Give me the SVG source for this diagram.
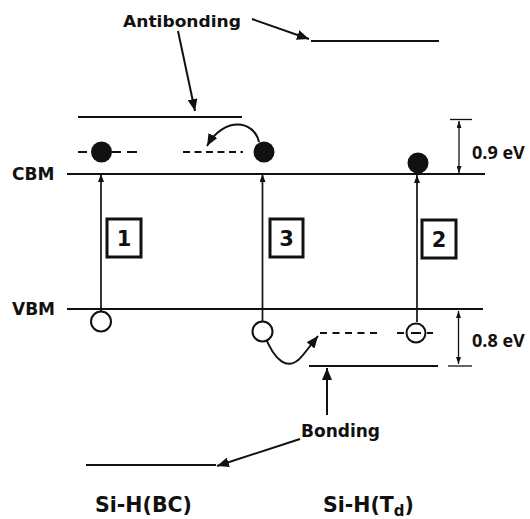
<svg xmlns="http://www.w3.org/2000/svg" width="530" height="519" viewBox="0 0 530 519">
<style>
.lv{stroke:#111;stroke-width:2;fill:none}
.ds{stroke:#111;stroke-width:2;fill:none}
.ar{stroke:#111;stroke-width:2;fill:none}
.thin{stroke:#111;stroke-width:1.3;fill:none}
.va{stroke:#111;stroke-width:1.7;fill:none}
.t{font-family:"DejaVu Sans",sans-serif;font-weight:bold;fill:#111}
.u{font-family:"Open Sans","DejaVu Sans",sans-serif;font-weight:bold;fill:#111}
.box{stroke:#111;stroke-width:3;fill:#fff}
.e{fill:#111}
.h{fill:#fff;stroke:#111;stroke-width:2}
</style>
<defs>
<marker id="big" viewBox="0 0 12 10" refX="12" refY="5" markerWidth="12" markerHeight="10" markerUnits="userSpaceOnUse" orient="auto"><path d="M0,0 L12,5 L0,10 z" fill="#111"/></marker>
<marker id="sm" viewBox="0 0 8 6" refX="8" refY="3" markerWidth="8" markerHeight="6" markerUnits="userSpaceOnUse" orient="auto"><path d="M0,0 L8,3 L0,6 z" fill="#111"/></marker>
<marker id="dim" viewBox="0 0 7 5" refX="7" refY="2.5" markerWidth="7" markerHeight="5" markerUnits="userSpaceOnUse" orient="auto-start-reverse"><path d="M0,0 L7,2.5 L0,5 z" fill="#111"/></marker>
</defs>

<g id="band-edges">
<line class="lv" x1="67" y1="174" x2="485" y2="174"/>
<line class="lv" x1="67" y1="309" x2="483" y2="309"/>
<text class="t" x="12" y="180" font-size="17">CBM</text>
<text class="t" x="12" y="315" font-size="17">VBM</text>
</g>

<g id="levels">
<line class="lv" x1="78" y1="117" x2="242" y2="117"/>
<line class="lv" x1="311" y1="41" x2="439" y2="41"/>
<line class="lv" x1="309" y1="366" x2="438" y2="366"/>
<line class="lv" x1="86" y1="465" x2="216" y2="465"/>
<line class="ds" x1="78" y1="152" x2="87" y2="152"/>
<line class="ds" x1="112" y1="152" x2="121" y2="152"/>
<line class="ds" x1="127" y1="152" x2="137" y2="152"/>
<line class="ds" x1="183" y1="152" x2="243" y2="152" stroke-dasharray="7 4.5"/>
<line class="ds" x1="320" y1="333" x2="381" y2="333" stroke-dasharray="7 5.5"/>
<line class="ds" x1="397" y1="333" x2="404" y2="333"/>
<line class="ds" x1="427" y1="333" x2="433" y2="333"/>
</g>

<g id="connectors">
<line class="ar" x1="178" y1="31" x2="195" y2="111" marker-end="url(#big)"/>
<line class="ar" x1="252" y1="19" x2="309" y2="39" marker-end="url(#big)"/>
<line class="ar" x1="327" y1="415" x2="327" y2="368" marker-end="url(#big)"/>
<line class="ar" x1="300" y1="439" x2="217" y2="466" marker-end="url(#big)"/>
<line class="va" x1="101" y1="311" x2="101" y2="174" marker-end="url(#sm)"/>
<line class="va" x1="262.5" y1="321" x2="262.5" y2="174" marker-end="url(#sm)"/>
<line class="va" x1="417" y1="322" x2="417" y2="175" marker-end="url(#sm)"/>
<path class="ar" d="M259 142 C254 120 224 116 207 146" marker-end="url(#big)"/>
<path class="ar" d="M264 334 C274 360 288 374 303 355 L318 336" marker-end="url(#big)"/>
</g>

<g id="carriers">
<circle class="e" cx="101.5" cy="152" r="10.5"/>
<circle class="e" cx="264" cy="152" r="10.5"/>
<circle class="e" cx="418" cy="163" r="10.5"/>
<circle class="h" cx="101" cy="321.5" r="10"/>
<circle class="h" cx="262.5" cy="331.5" r="10"/>
<circle class="h" cx="416" cy="333" r="9.5"/>
<line class="ds" x1="411" y1="333" x2="421" y2="333" stroke-width="2.5"/>
</g>

<g id="box1"><rect class="box" x="107" y="219" width="34" height="38"/><text class="t" x="124" y="246" font-size="21" text-anchor="middle">1</text></g>
<g id="box3"><rect class="box" x="270" y="219" width="33" height="38"/><text class="t" x="286.5" y="246" font-size="21" text-anchor="middle">3</text></g>
<g id="box2"><rect class="box" x="422" y="220" width="34" height="38"/><text class="t" x="439" y="247" font-size="21" text-anchor="middle">2</text></g>

<g id="dim09">
<line class="thin" x1="450" y1="119.5" x2="472" y2="119.5"/>
<line class="thin" x1="459" y1="121" x2="459" y2="173" marker-start="url(#dim)" marker-end="url(#dim)"/>
<text class="u" x="472" y="159" font-size="18">0.9 eV</text>
</g>
<g id="dim08">
<line class="thin" x1="448" y1="366" x2="472" y2="366"/>
<line class="thin" x1="458.5" y1="311" x2="458.5" y2="364" marker-start="url(#dim)" marker-end="url(#dim)"/>
<text class="u" x="472" y="347" font-size="18">0.8 eV</text>
</g>

<g id="labels">
<text class="t" x="123" y="27" font-size="16.6" textLength="118" lengthAdjust="spacingAndGlyphs">Antibonding</text>
<text class="t" x="301" y="437" font-size="16.8" textLength="79" lengthAdjust="spacingAndGlyphs">Bonding</text>
<text class="t" x="95" y="512" font-size="20.5" textLength="97" lengthAdjust="spacingAndGlyphs">Si-H(BC)</text>
<text class="t" x="323" y="512" font-size="20.5">Si-H(T<tspan font-size="15" dy="4">d</tspan><tspan dy="-4">)</tspan></text>
</g>
</svg>
